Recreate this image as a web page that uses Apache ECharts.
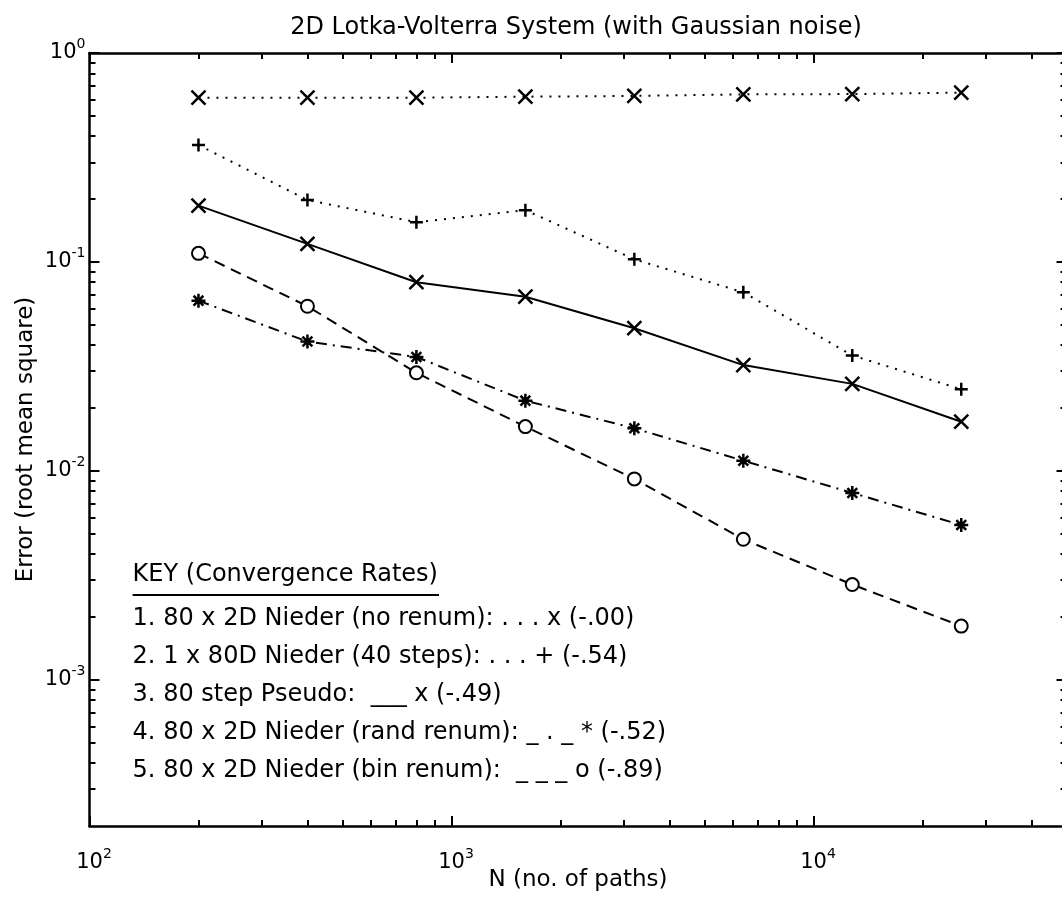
<!DOCTYPE html>
<html>
<head>
<meta charset="utf-8">
<title>2D Lotka-Volterra System</title>
<script src="https://cdn.jsdelivr.net/npm/echarts@6/dist/echarts.min.js"></script>
<style>
  html, body { margin: 0; padding: 0; background: #fff; }
  #chart { width: 1062px; height: 897px; }
</style>
</head>
<body>
<div id="chart"></div>
<script>
// N (no. of paths)
var paths = [200, 400, 800, 1600, 3200, 6400, 12800, 25600];

// error (root mean square) per method
var niederNoRenum   = [0.611, 0.611, 0.611, 0.618, 0.623, 0.634, 0.636, 0.646];
var nieder80D       = [0.363, 0.198, 0.155, 0.177, 0.103, 0.0716, 0.0357, 0.0246];
var pseudo          = [0.186, 0.122, 0.080, 0.0682, 0.0482, 0.0321, 0.0261, 0.0172];
var niederRandRenum = [0.0653, 0.0416, 0.0351, 0.0217, 0.0160, 0.0112, 0.00785, 0.00551];
var niederBinRenum  = [0.110, 0.0614, 0.0295, 0.0163, 0.00916, 0.00471, 0.00286, 0.00181];

// tick values
var xMajor = [100, 1000, 10000];
var xMinor = [200, 300, 400, 500, 600, 700, 800, 900,
              2000, 3000, 4000, 5000, 6000, 7000, 8000, 9000,
              20000, 30000, 40000];
var yMajor = [0.001, 0.01, 0.1, 1];
var yMinor = [0.0003, 0.0004, 0.0005, 0.0006, 0.0007, 0.0008, 0.0009,
              0.002, 0.003, 0.004, 0.005, 0.006, 0.007, 0.008, 0.009,
              0.02, 0.03, 0.04, 0.05, 0.06, 0.07, 0.08, 0.09,
              0.2, 0.3, 0.4, 0.5, 0.6, 0.7, 0.8, 0.9];

var keyTitle = 'KEY (Convergence Rates)';
var keyLines = [
  '1. 80 x 2D Nieder (no renum): . . . x (-.00)',
  '2. 1 x 80D Nieder (40 steps): . . . + (-.54)',
  '3. 80 step Pseudo:  ___ x (-.49)',
  '4. 80 x 2D Nieder (rand renum): _ . _ * (-.52)',
  '5. 80 x 2D Nieder (bin renum):  _ _ _ o (-.89)'
];

var FONT = '"DejaVu Sans", sans-serif';
var SYM_X = 'path://M0,0L10,10M10,0L0,10';
var SYM_PLUS = 'path://M5,0L5,10M0,5L10,5';
var SYM_STAR = 'path://M5,0L5,10M0,5L10,5M1.5,1.5L8.5,8.5M8.5,1.5L1.5,8.5';

var myChart = echarts.init(document.getElementById('chart'));

function pow10(v) {
  return Math.round(Math.log10(v));
}

function makeSeries(name, values, symbol, size, lineType) {
  var data = [];
  for (let i = 0; i < paths.length; i++) {
    data.push([paths[i], values[i]]);
  }
  return {
    name: name,
    type: 'line',
    xAxisIndex: 0,
    yAxisIndex: 0,
    data: data,
    symbol: symbol,
    symbolSize: size,
    lineStyle: { color: '#000', width: 2, type: lineType, cap: 'butt' },
    itemStyle: { color: '#000', borderColor: '#000', borderWidth: 2.5 },
    emphasis: { disabled: true },
    silent: true
  };
}

function tickAxis(grid, pos, isX, values, len, withLine) {
  var ax = {
    gridIndex: grid,
    type: 'log',
    logBase: 10,
    position: pos,
    axisLine: { show: withLine, onZero: false, lineStyle: { color: '#000', width: 2.5 } },
    axisTick: { show: true, inside: true, length: len, customValues: values,
                lineStyle: { color: '#000', width: 2 } },
    axisLabel: { show: false },
    splitLine: { show: false },
    minorTick: { show: false }
  };
  if (isX) { ax.min = 100; ax.max = 50000; } else { ax.min = 0.0002; ax.max = 1; }
  return ax;
}

var labelRich = {
  b: { fontSize: 21, fontFamily: FONT, color: '#000' },
  bx: { fontSize: 21, fontFamily: FONT, color: '#000', padding: [0, 0, 0, 9] },
  s: { fontSize: 14, fontFamily: FONT, color: '#000', padding: [0, 0, 18, 0] }
};

var xMain = tickAxis(0, 'bottom', true, xMajor, 10, true);
xMain.axisLabel = {
  show: true,
  customValues: xMajor,
  margin: 21,
  formatter: function (v) { return '{bx|10}{s|' + pow10(v) + '}'; },
  rich: labelRich
};
xMain.name = 'N (no. of paths)';
xMain.nameLocation = 'middle';
xMain.nameGap = 43;
xMain.nameMoveOverlap = false;
xMain.nameTextStyle = { fontFamily: FONT, fontSize: 23, color: '#000' };

var yMain = tickAxis(0, 'left', false, yMajor, 10, true);
yMain.axisLabel = {
  show: true,
  customValues: yMajor,
  margin: 4,
  formatter: function (v) { return '{b|10}{s|' + pow10(v) + '}'; },
  rich: labelRich
};
yMain.name = 'Error (root mean square)';
yMain.nameLocation = 'middle';
yMain.nameGap = 52;
yMain.nameMoveOverlap = false;
yMain.nameTextStyle = { fontFamily: FONT, fontSize: 23, color: '#000' };

// both grids share one box; the second only carries the minor ticks
var gridBox = { left: 89.5, top: 53, width: 977, height: 773, show: false,
                containLabel: false, outerBoundsMode: 'none' };

var graphic = [
  {
    type: 'text', x: 132.6, y: 575,
    style: { text: keyTitle, font: '24px ' + FONT, fill: '#000',
             verticalAlign: 'middle', textVerticalAlign: 'middle' }
  },
  {
    type: 'line',
    shape: { x1: 132.6, y1: 595, x2: 439, y2: 595 },
    style: { stroke: '#000', lineWidth: 2 }
  }
];
for (let i = 0; i < keyLines.length; i++) {
  graphic.push({
    type: 'text', x: 132.6, y: 619 + i * 38,
    style: { text: keyLines[i], font: '24px ' + FONT, fill: '#000',
             verticalAlign: 'middle', textVerticalAlign: 'middle' }
  });
}

var option = {
  animation: false,
  backgroundColor: '#fff',
  title: {
    text: '2D Lotka-Volterra System (with Gaussian noise)',
    left: 571,
    top: 11,
    textAlign: 'center',
    textStyle: { fontFamily: FONT, fontSize: 24, fontWeight: 'normal', color: '#000' }
  },
  grid: [gridBox, Object.assign({}, gridBox)],
  xAxis: [
    xMain,
    tickAxis(0, 'top', true, xMajor, 10, true),
    tickAxis(1, 'bottom', true, xMinor, 6, false),
    tickAxis(1, 'top', true, xMinor, 6, false)
  ],
  yAxis: [
    yMain,
    tickAxis(0, 'right', false, yMajor, 10, true),
    tickAxis(1, 'left', false, yMinor, 6, false),
    tickAxis(1, 'right', false, yMinor, 6, false)
  ],
  graphic: graphic,
  series: [
    makeSeries('80 x 2D Nieder (no renum)', niederNoRenum, SYM_X, 14, [2, 7]),
    makeSeries('1 x 80D Nieder (40 steps)', nieder80D, SYM_PLUS, 13, [2, 7]),
    makeSeries('80 step Pseudo', pseudo, SYM_X, 14, 'solid'),
    makeSeries('80 x 2D Nieder (rand renum)', niederRandRenum, SYM_STAR, 14, [11, 6, 2, 6]),
    makeSeries('80 x 2D Nieder (bin renum)', niederBinRenum, 'emptyCircle', 13, [11, 7])
  ]
};

myChart.setOption(option, true);
</script>
</body>
</html>
